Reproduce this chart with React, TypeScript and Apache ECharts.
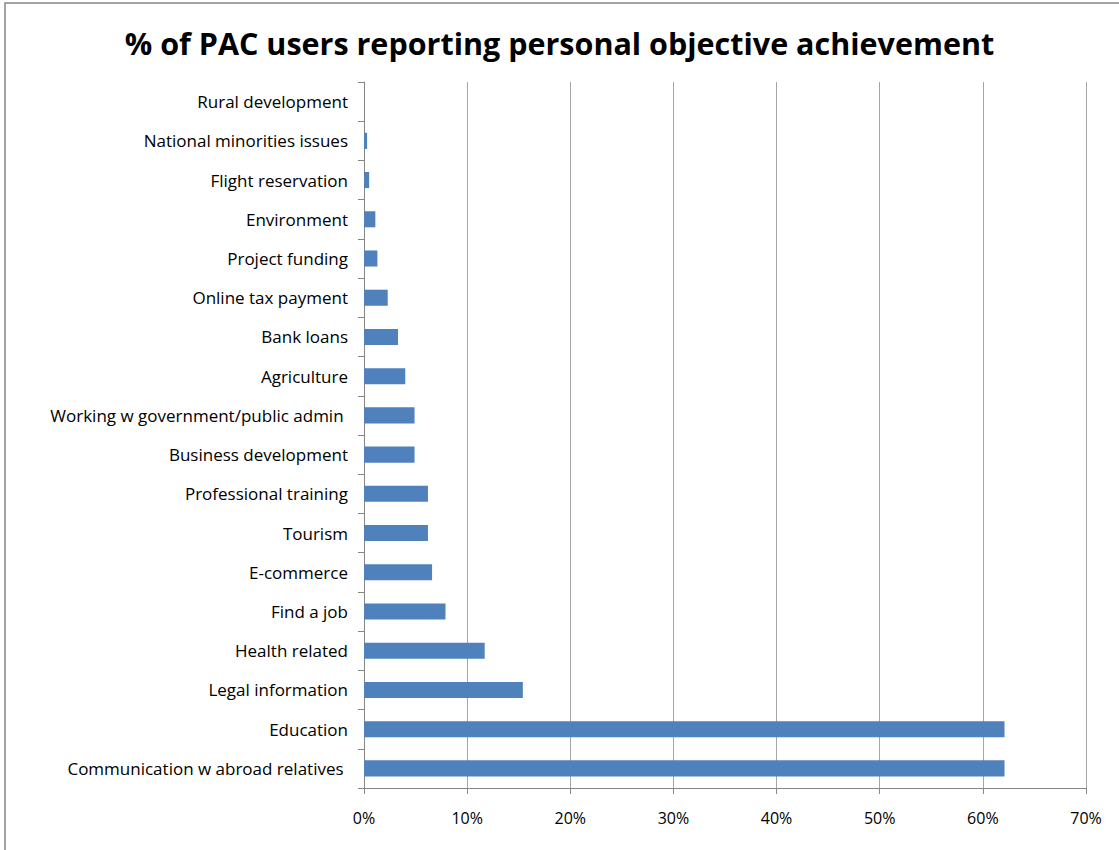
import React, { useEffect, useRef } from "react";
import * as echarts from "echarts";

const categories = [
  "Communication w abroad relatives ",
  "Education",
  "Legal information",
  "Health related",
  "Find a job",
  "E-commerce",
  "Tourism",
  "Professional training",
  "Business development",
  "Working w government/public admin ",
  "Agriculture",
  "Bank loans",
  "Online tax payment",
  "Project funding",
  "Environment",
  "Flight reservation",
  "National minorities issues",
  "Rural development",
];

const values = [62.1, 62.1, 15.4, 11.7, 7.9, 6.6, 6.2, 6.2, 4.9, 4.9, 4.0, 3.3, 2.3, 1.3, 1.1, 0.5, 0.3, 0];

const titleText = "% of PAC users reporting personal objective achievement";

export default function App() {
  const ref = useRef<HTMLDivElement>(null);
  useEffect(() => {
    if (!ref.current) return;
    const chart = echarts.init(ref.current, null, { renderer: "svg" });
    const font = "Open Sans";
    chart.setOption({
      animation: false,
      backgroundColor: "#ffffff",
      title: {
        text: titleText,
        left: "center",
        top: 22,
        textStyle: { fontFamily: font, fontSize: 30.5, fontWeight: "bold", color: "#000" },
      },
      graphic: [
        {
          type: "rect",
          shape: { x: 5, y: 3, width: 1130, height: 870 },
          style: { fill: "none", stroke: "#868686", lineWidth: 1.5 },
          silent: true,
        },
      ],
      grid: { left: 364, right: 33, top: 82, bottom: 62 },
      xAxis: {
        type: "value",
        min: 0,
        max: 70,
        interval: 10,
        axisLine: { show: true, lineStyle: { color: "#868686", width: 1 } },
        axisTick: { show: true, length: 6, lineStyle: { color: "#868686" } },
        axisLabel: {
          formatter: "{value}%",
          fontFamily: font,
          fontSize: 16,
          color: "#000",
          margin: 22,
        },
        splitLine: { show: true, lineStyle: { color: "#a6a6a6", width: 1 } },
      },
      yAxis: {
        type: "category",
        data: categories,
        axisLine: { show: true, lineStyle: { color: "#868686", width: 1 } },
        axisTick: { show: true, length: 6, lineStyle: { color: "#868686" } },
        axisLabel: { fontFamily: font, fontSize: 17, color: "#000", margin: 16 },
        splitLine: { show: false },
      },
      series: [
        {
          type: "bar",
          data: values,
          barCategoryGap: "59%",
          itemStyle: { color: "#4f81bd" },
        },
      ],
    });
    return () => chart.dispose();
  }, []);
  return (
    <div
      ref={ref}
      style={{ position: "fixed", left: 0, top: 0, width: 1119, height: 850 }}
    />
  );
}
